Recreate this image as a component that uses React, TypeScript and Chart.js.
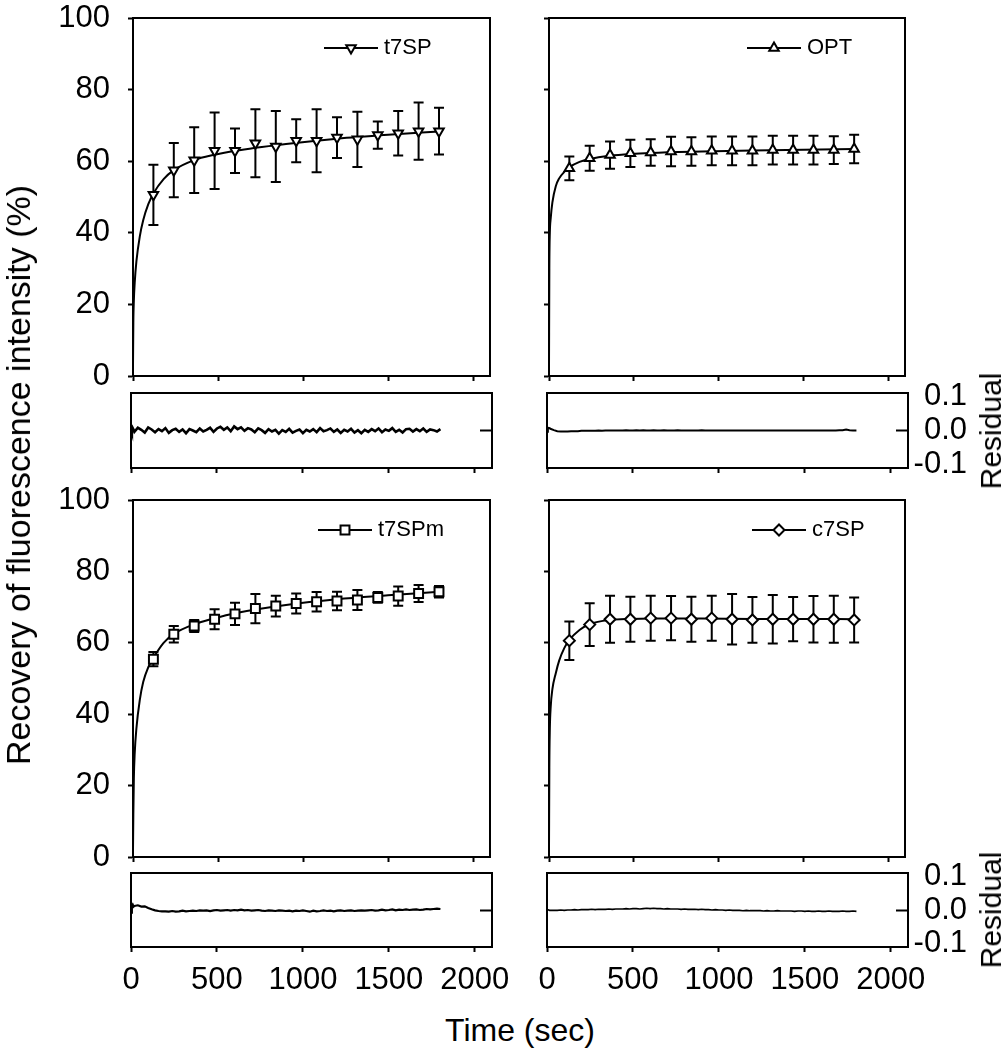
import React, { useEffect, useRef } from 'react';
import { Chart, registerables } from 'chart.js';
import { drawPoint } from 'chart.js/helpers';

Chart.register(...registerables);

const FONT = '"Liberation Sans", Arial, Helvetica, sans-serif';
Chart.defaults.font.family = FONT;
Chart.defaults.color = '#000';

// ---------- axis ticks ----------
const X_TICKS = [0, 500, 1000, 1500, 2000];
const Y_TICKS = [0, 20, 40, 60, 80, 100];
const RES_TICKS = [-0.1, 0, 0.1];
const RES_RANGE = [-0.11, 0.11];

// ---------- measured points (mean ± SD) ----------
const POINT_TIME = [120, 240, 360, 480, 600, 720, 840, 960, 1080, 1200, 1320, 1440, 1560, 1680, 1800];

const T7SP_MEAN = [50.6, 57.5, 60.3, 62.9, 62.9, 65.0, 64.1, 65.7, 65.7, 66.6, 66.1, 67.3, 67.8, 68.4, 68.4];
const T7SP_ERR = [8.4, 7.6, 9.2, 10.7, 6.2, 9.5, 9.9, 6.0, 8.8, 5.7, 7.7, 3.8, 6.2, 8.0, 6.5];

const OPT_MEAN = [58.0, 60.8, 61.7, 62.2, 62.4, 62.7, 62.7, 62.9, 62.9, 62.9, 63.1, 63.1, 63.1, 63.1, 63.4];
const OPT_ERR = [3.3, 3.5, 3.8, 3.8, 3.7, 4.1, 4.0, 4.0, 4.0, 4.0, 4.0, 4.0, 4.0, 3.9, 4.0];

const T7SPM_MEAN = [55.4, 62.4, 64.7, 66.6, 68.1, 69.6, 70.3, 71.0, 71.5, 71.7, 72.0, 72.7, 73.1, 73.8, 74.3];
const T7SPM_ERR = [2.0, 2.3, 1.7, 2.8, 3.1, 4.1, 2.9, 2.8, 2.7, 2.6, 2.8, 1.5, 2.7, 2.4, 1.6];

const C7SP_MEAN = [60.6, 65.1, 66.6, 66.6, 66.9, 66.9, 66.6, 66.9, 66.6, 66.4, 66.6, 66.6, 66.6, 66.6, 66.4];
const C7SP_ERR = [5.4, 6.0, 6.6, 6.3, 6.3, 6.2, 6.3, 6.3, 7.1, 6.4, 6.8, 6.2, 6.5, 6.6, 6.3];

// ---------- fitted recovery curves ----------
const FIT_TIME = [0, 2, 5, 10, 20, 40, 60, 90, 120, 180, 240, 360, 480, 600, 900, 1200, 1500, 1800];
const T7SP_FIT = [3, 15, 21, 26, 32, 39, 43.5, 48, 51, 55, 57.5, 60.3, 61.8, 62.9, 64.8, 66.3, 67.4, 68.3];
const OPT_FIT = [2, 30, 40, 44, 48.5, 53, 55.2, 57, 58.3, 59.8, 60.6, 61.5, 62.0, 62.3, 62.7, 63.0, 63.2, 63.4];
const T7SPM_FIT = [2, 12, 22, 29, 36, 44, 49, 53.2, 55.8, 60, 62.5, 65.2, 66.9, 68.3, 70.6, 72.2, 73.3, 74.3];
const C7SP_FIT = [2, 25, 36, 42, 47, 51.5, 55, 58.5, 60.8, 63.6, 65.2, 66.4, 66.7, 66.8, 66.8, 66.7, 66.7, 66.6];

// ---------- residuals ----------
const RES_TIME = [
  0, 5, 10, 15,
  20, 40, 60, 80, 100, 120, 140, 160, 180, 200,
  220, 240, 260, 280, 300, 320, 340, 360, 380, 400,
  420, 440, 460, 480, 500, 520, 540, 560, 580, 600,
  620, 640, 660, 680, 700, 720, 740, 760, 780, 800,
  820, 840, 860, 880, 900, 920, 940, 960, 980, 1000,
  1020, 1040, 1060, 1080, 1100, 1120, 1140, 1160, 1180, 1200,
  1220, 1240, 1260, 1280, 1300, 1320, 1340, 1360, 1380, 1400,
  1420, 1440, 1460, 1480, 1500, 1520, 1540, 1560, 1580, 1600,
  1620, 1640, 1660, 1680, 1700, 1720, 1740, 1760, 1780, 1800,
];

const T7SP_RES = [
  0.004, -0.005, 0.007, 0.002,
  -0.004, 0.008, 0.002, -0.006, 0.009, 0.003, -0.005, 0.004, -0.002, 0.007,
  -0.007, 0.001, 0.005, -0.004, 0.003, -0.008, 0.004, 0.000, -0.005, 0.006,
  -0.003, 0.002, 0.008, -0.004, 0.006, 0.011, 0.002, 0.009, -0.002, 0.012,
  0.004, 0.009, -0.001, 0.007, 0.003, -0.005, 0.006, 0.001, -0.007, 0.004,
  -0.003, 0.002, -0.009, 0.001, -0.004, 0.005, -0.006, -0.001, 0.003, -0.008,
  0.002, -0.003, 0.004, -0.005, 0.007, -0.002, 0.001, 0.006, -0.004, 0.003,
  -0.007, 0.002, -0.003, 0.005, -0.006, 0.001, -0.008, 0.002, -0.004, 0.004,
  -0.002, 0.006, -0.005, 0.003, -0.001, 0.007, -0.004, 0.002, -0.006, 0.004,
  0.005, -0.003, 0.004, -0.002, 0.006, -0.004, 0.003, 0.001, -0.003, 0.004,
];

const OPT_RES = [
  -0.004, 0.006, 0.008, 0.007,
  0.005, 0.001, -0.002, -0.003, -0.003, -0.003, -0.002, -0.002, -0.002, -0.001,
  -0.001, -0.001, -0.001, -0.001, 0.000, -0.001, 0.000, 0.000, 0.000, 0.000,
  0.000, 0.000, 0.001, 0.000, 0.000, 0.001, 0.000, 0.001, 0.000, 0.000,
  0.001, 0.000, 0.000, 0.001, 0.000, 0.000, 0.000, 0.001, 0.000, 0.000,
  0.000, 0.000, 0.000, 0.000, 0.001, 0.000, 0.000, 0.000, 0.000, 0.000,
  0.000, 0.000, 0.000, 0.000, 0.000, 0.000, 0.000, 0.000, 0.000, 0.000,
  0.000, 0.000, 0.000, 0.000, 0.000, 0.000, 0.000, 0.000, 0.000, 0.000,
  0.000, 0.000, 0.000, 0.000, 0.000, 0.000, 0.000, 0.000, 0.000, 0.000,
  0.000, 0.000, 0.000, 0.000, 0.001, 0.001, 0.003, 0.001, 0.000, 0.000,
];

const T7SPM_RES = [
  -0.008, 0.012, 0.016, 0.010,
  0.012, 0.014, 0.010, 0.011, 0.006, 0.002, -0.001, -0.003, -0.004, -0.004,
  -0.005, -0.003, -0.005, -0.004, -0.002, -0.004, -0.003, -0.002, -0.003, -0.001,
  -0.002, -0.001, -0.003, -0.001, 0.000, -0.002, -0.001, 0.000, -0.002, 0.000,
  -0.001, 0.001, -0.001, 0.000, -0.002, -0.001, 0.000, -0.002, -0.003, -0.001,
  -0.002, -0.003, -0.001, -0.002, -0.003, -0.002, -0.004, -0.002, -0.003, -0.001,
  -0.003, -0.005, -0.002, -0.004, -0.003, -0.001, -0.003, -0.002, -0.004, -0.002,
  -0.001, -0.003, -0.002, -0.001, -0.003, -0.002, -0.001, -0.002, -0.001, 0.000,
  -0.002, -0.001, 0.001, -0.001, 0.000, 0.002, -0.001, 0.001, 0.000, 0.002,
  0.000, 0.001, 0.002, 0.000, 0.001, 0.003, 0.002, 0.003, 0.004, 0.003,
];

const C7SP_RES = [
  0.000, 0.001, 0.000, -0.001,
  -0.001, -0.001, -0.001, 0.000, -0.001, 0.000, 0.000, 0.001, 0.000, 0.001,
  0.001, 0.001, 0.002, 0.001, 0.002, 0.002, 0.002, 0.003, 0.002, 0.003,
  0.003, 0.003, 0.004, 0.003, 0.004, 0.004, 0.003, 0.004, 0.005, 0.004,
  0.005, 0.004, 0.004, 0.003, 0.004, 0.003, 0.003, 0.003, 0.002, 0.003,
  0.002, 0.002, 0.002, 0.001, 0.002, 0.001, 0.001, 0.000, 0.001, 0.000,
  0.000, -0.001, 0.000, -0.001, -0.001, -0.001, -0.002, -0.001, -0.002, -0.002,
  -0.002, -0.002, -0.003, -0.002, -0.003, -0.003, -0.002, -0.003, -0.003, -0.003,
  -0.003, -0.004, -0.003, -0.003, -0.004, -0.003, -0.004, -0.004, -0.003, -0.004,
  -0.004, -0.003, -0.004, -0.004, -0.004, -0.003, -0.004, -0.004, -0.003, -0.004,
];

// ---------- plugins ----------
const framePlugin = {
  id: 'frame',
  afterDatasetsDraw(chart: any) {
    const { ctx, chartArea: a } = chart;
    ctx.save();
    ctx.strokeStyle = '#000';
    ctx.lineWidth = 2;
    ctx.strokeRect(a.left, a.top, a.right - a.left, a.bottom - a.top);
    ctx.restore();
  },
};

const errorBarPlugin = {
  id: 'errorBars',
  beforeDatasetsDraw(chart: any) {
    const ds = chart.data.datasets[0];
    const err: number[] | undefined = ds.errors;
    if (!err) return;
    const xs = chart.scales.x;
    const ys = chart.scales.y;
    const ctx = chart.ctx;
    ctx.save();
    ctx.strokeStyle = '#000';
    ctx.lineWidth = 2;
    ds.data.forEach((pt: any, i: number) => {
      const x = xs.getPixelForValue(pt.x);
      const y1 = ys.getPixelForValue(pt.y + err[i]);
      const y2 = ys.getPixelForValue(pt.y - err[i]);
      ctx.beginPath();
      ctx.moveTo(x, y1);
      ctx.lineTo(x, y2);
      ctx.moveTo(x - 5, y1);
      ctx.lineTo(x + 5, y1);
      ctx.moveTo(x - 5, y2);
      ctx.lineTo(x + 5, y2);
      ctx.stroke();
    });
    ctx.restore();
  },
};

const legendPlugin = {
  id: 'insetLegend',
  afterDatasetsDraw(chart: any, _args: any, opts: any) {
    if (!opts || opts.x == null) return;
    const ds = chart.data.datasets[0];
    const a = chart.chartArea;
    const ctx = chart.ctx;
    const x0 = a.left + opts.x;
    const x1 = x0 + 54;
    const y = a.top + 30;
    ctx.save();
    ctx.strokeStyle = '#000';
    ctx.lineWidth = 2;
    ctx.beginPath();
    ctx.moveTo(x0, y);
    ctx.lineTo(x1, y);
    ctx.stroke();
    ctx.fillStyle = '#fff';
    drawPoint(ctx, { pointStyle: ds.pointStyle, rotation: ds.pointRotation || 0, radius: ds.pointRadius, borderWidth: 2 } as any, (x0 + x1) / 2, y);
    ctx.fillStyle = '#000';
    ctx.font = `22px ${FONT}`;
    ctx.textAlign = 'left';
    ctx.textBaseline = 'middle';
    ctx.fillText(ds.label, x1 + 6, y);
    ctx.restore();
  },
};

// ---------- panel layouts ----------
type MainSpec = {
  label: string; mean: number[]; err: number[]; fit: number[];
  style: string; rot: number; radius: number;
  rect: [number, number, number, number];
  leftAxis: number; bottomAxis: number; padTop: number; padRight: number;
  showY: boolean; legendX: number;
};

const MAIN_PANELS: MainSpec[] = [
  { label: 't7SP', mean: T7SP_MEAN, err: T7SP_ERR, fit: T7SP_FIT, style: 'triangle', rot: 180, radius: 5.5,
    rect: [0, 0, 500, 390], leftAxis: 133, bottomAxis: 14, padTop: 18, padRight: 10, showY: true, legendX: 191 },
  { label: 'OPT', mean: OPT_MEAN, err: OPT_ERR, fit: OPT_FIT, style: 'triangle', rot: 0, radius: 5.5,
    rect: [510, 0, 410, 390], leftAxis: 39, bottomAxis: 14, padTop: 18, padRight: 15, showY: false, legendX: 198 },
  { label: 't7SPm', mean: T7SPM_MEAN, err: T7SPM_ERR, fit: T7SPM_FIT, style: 'rect', rot: 0, radius: 6.3,
    rect: [0, 480, 500, 390], leftAxis: 133, bottomAxis: 13, padTop: 20, padRight: 10, showY: true, legendX: 185 },
  { label: 'c7SP', mean: C7SP_MEAN, err: C7SP_ERR, fit: C7SP_FIT, style: 'rectRot', rot: 0, radius: 5.5,
    rect: [510, 480, 410, 390], leftAxis: 39, bottomAxis: 13, padTop: 20, padRight: 15, showY: false, legendX: 203 },
];

type ResSpec = {
  values: number[]; rect: [number, number, number, number];
  padLeft: number; padTop: number; padRight: number; bottomAxis: number; rightAxis: number;
  showX: boolean; showY: boolean; lineWidth: number;
};

const RES_PANELS: ResSpec[] = [
  { values: T7SP_RES, rect: [100, 380, 420, 100], padLeft: 31, padTop: 13, padRight: 0, bottomAxis: 12, rightAxis: 28, showX: false, showY: false, lineWidth: 2.6 },
  { values: OPT_RES, rect: [520, 360, 484, 140], padLeft: 27, padTop: 33, padRight: 37, bottomAxis: 32, rightAxis: 59, showX: false, showY: true, lineWidth: 2 },
  { values: T7SPM_RES, rect: [100, 860, 420, 150], padLeft: 31, padTop: 13, padRight: 0, bottomAxis: 63, rightAxis: 28, showX: true, showY: false, lineWidth: 2.2 },
  { values: C7SP_RES, rect: [520, 840, 484, 170], padLeft: 27, padTop: 33, padRight: 37, bottomAxis: 63, rightAxis: 59, showX: true, showY: true, lineWidth: 1.6 },
];

const tickFont = { family: FONT, size: 31, lineHeight: 1 };
const gridOpts = (len: number) => ({
  drawOnChartArea: false, drawTicks: true, tickLength: len, tickWidth: 2, color: '#000',
});
const borderOpts = { display: true, color: '#000', width: 2 };
const noPad = (s: any) => { s.paddingTop = 0; s.paddingBottom = 0; s.paddingLeft = 0; s.paddingRight = 0; };

function mainConfig(p: MainSpec): any {
  return {
    type: 'line',
    data: {
      datasets: [
        {
          label: p.label,
          data: POINT_TIME.map((t, i) => ({ x: t, y: p.mean[i] })),
          errors: p.err,
          showLine: false,
          pointStyle: p.style,
          pointRotation: p.rot,
          pointRadius: p.radius,
          pointBorderWidth: 2,
          pointBackgroundColor: '#fff',
          pointBorderColor: '#000',
          borderColor: '#000',
          order: 0,
        },
        {
          label: p.label + ' fit',
          data: FIT_TIME.map((t, i) => ({ x: t, y: p.fit[i] })),
          borderColor: '#000',
          borderWidth: 2,
          pointRadius: 0,
          cubicInterpolationMode: 'monotone',
          order: 1,
        },
      ],
    },
    options: {
      responsive: false,
      animation: false,
      devicePixelRatio: 1,
      events: [],
      layout: { autoPadding: false, padding: { left: 0, top: p.padTop, right: p.padRight, bottom: 0 } },
      plugins: { legend: { display: false }, tooltip: { enabled: false }, insetLegend: { x: p.legendX } },
      scales: {
        x: {
          type: 'linear', min: 0, max: 2100,
          afterBuildTicks: (s: any) => { s.ticks = X_TICKS.map((v) => ({ value: v })); },
          ticks: { display: false },
          grid: gridOpts(5),
          border: borderOpts,
          afterFit: (s: any) => { s.height = p.bottomAxis; noPad(s); },
        },
        y: {
          type: 'linear', min: 0, max: 100,
          afterBuildTicks: (s: any) => { s.ticks = Y_TICKS.map((v) => ({ value: v })); },
          ticks: { display: p.showY, font: tickFont, color: '#000', padding: 18, callback: (v: any) => String(v) },
          grid: gridOpts(5),
          border: borderOpts,
          afterFit: (s: any) => { s.width = p.leftAxis; noPad(s); },
        },
      },
    },
    plugins: [errorBarPlugin, framePlugin, legendPlugin],
  };
}

function resConfig(p: ResSpec): any {
  return {
    type: 'line',
    data: {
      datasets: [
        {
          label: 'Residual',
          data: RES_TIME.map((t, i) => ({ x: t, y: p.values[i] })),
          borderColor: '#000',
          borderWidth: p.lineWidth,
          pointRadius: 0,
          tension: 0,
        },
      ],
    },
    options: {
      responsive: false,
      animation: false,
      devicePixelRatio: 1,
      events: [],
      layout: { autoPadding: false, padding: { left: p.padLeft, top: p.padTop, right: p.padRight, bottom: 0 } },
      plugins: { legend: { display: false }, tooltip: { enabled: false } },
      scales: {
        x: {
          type: 'linear', min: 0, max: 2100,
          afterBuildTicks: (s: any) => { s.ticks = X_TICKS.map((v) => ({ value: v })); },
          ticks: { display: p.showX, autoSkip: false, maxRotation: 0, font: tickFont, color: '#000', padding: 12.5, callback: (v: any) => String(v) },
          grid: gridOpts(5),
          border: borderOpts,
          afterFit: (s: any) => { s.height = p.bottomAxis; noPad(s); },
        },
        y: {
          type: 'linear', position: 'right', min: RES_RANGE[0], max: RES_RANGE[1],
          afterBuildTicks: (s: any) => { s.ticks = RES_TICKS.map((v) => ({ value: v })); },
          ticks: { display: p.showY, crossAlign: 'far', font: tickFont, color: '#000', padding: 4, callback: (v: any) => Number(v).toFixed(1) },
          grid: {
            ...gridOpts(-12),
            tickColor: (c: any) => (c.tick && c.tick.value === 0 ? '#000' : 'rgba(0,0,0,0)'),
          },
          border: borderOpts,
          afterFit: (s: any) => { s.width = p.rightAxis; noPad(s); },
        },
      },
    },
    plugins: [framePlugin],
  };
}

function ChartBox({ rect, build }: { rect: [number, number, number, number]; build: () => any }) {
  const ref = useRef<HTMLCanvasElement>(null);
  useEffect(() => {
    const chart = new Chart(ref.current as HTMLCanvasElement, build());
    return () => chart.destroy();
  }, []);
  const [x, y, w, h] = rect;
  return (
    <canvas
      ref={ref}
      width={w}
      height={h}
      style={{ position: 'absolute', left: x, top: y, width: w, height: h }}
    />
  );
}

function RotText({ x, y, size, text }: { x: number; y: number; size: number; text: string }) {
  return (
    <div
      style={{
        position: 'absolute', left: x, top: y, fontSize: size, lineHeight: 1, whiteSpace: 'nowrap',
        transform: 'translate(-50%, -50%) rotate(-90deg)', fontFamily: FONT, color: '#000',
      }}
    >
      {text}
    </div>
  );
}

export default function App() {
  return (
    <div
      style={{
        position: 'absolute', left: 0, top: 0, width: 1004, height: 1050, background: '#fff',
        overflow: 'hidden', fontFamily: FONT, color: '#000',
      }}
    >
      {MAIN_PANELS.map((p, i) => (
        <ChartBox key={'main' + i} rect={p.rect} build={() => mainConfig(p)} />
      ))}
      {RES_PANELS.map((p, i) => (
        <ChartBox key={'res' + i} rect={p.rect} build={() => resConfig(p)} />
      ))}
      <RotText x={18} y={475} size={34} text="Recovery of fluorescence intensity (%)" />
      <RotText x={991} y={431} size={30} text="Residual" />
      <RotText x={991} y={910} size={30} text="Residual" />
      <div
        style={{
          position: 'absolute', left: 520, top: 1030, transform: 'translate(-50%, -50%)',
          fontSize: 32, lineHeight: 1, whiteSpace: 'nowrap', fontFamily: FONT, color: '#000',
        }}
      >
        Time (sec)
      </div>
    </div>
  );
}
